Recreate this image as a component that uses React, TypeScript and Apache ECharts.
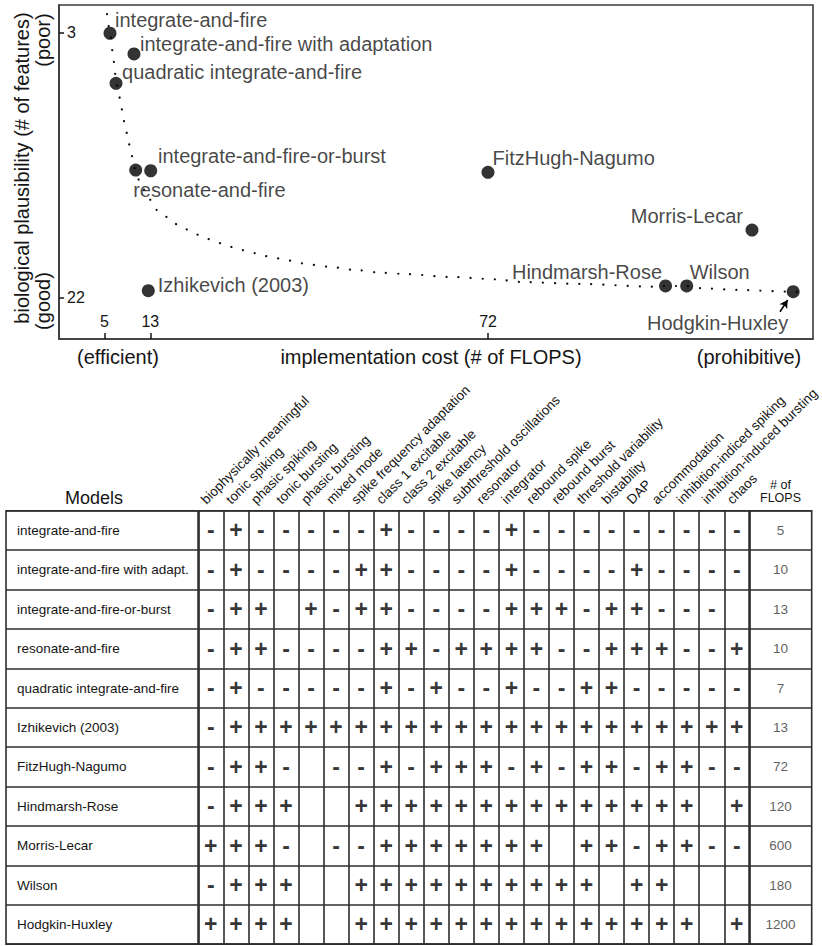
import React, { useEffect, useRef } from 'react';
import * as echarts from 'echarts';

// ---------- data: scatter (top panel) ----------
const pointNames = [
  'integrate-and-fire',
  'integrate-and-fire with adaptation',
  'integrate-and-fire-or-burst',
  'resonate-and-fire',
  'quadratic integrate-and-fire',
  'Izhikevich (2003)',
  'FitzHugh-Nagumo',
  'Hindmarsh-Rose',
  'Morris-Lecar',
  'Wilson',
  'Hodgkin-Huxley',
];
// position on the (schematic) cost axis
const pointCost = [5.95, 10.14, 13.06, 10.44, 7.0, 12.64, 71.98, 103.0, 118.1, 106.7, 125.3];
// position on the (schematic) plausibility axis
const pointPlaus = [3.03, 4.52, 12.91, 12.86, 6.63, 21.53, 13.02, 21.19, 17.17, 21.19, 21.6];

const costTicks = [5, 13, 72];
const plausTicks = [3, 22];

// dotted trend curve
const trendCost = [5.43, 5.78, 5.95, 6.42, 6.7, 7.0, 7.82, 8.17, 8.62, 9.15, 9.57, 10.44, 11.19, 12.82, 14.11, 15.86, 17.88, 19.75, 21.9, 24.0, 26.34, 28.36, 30.7, 32.85, 35.07, 37.27, 39.44, 44.03, 48.75, 53.12, 57.48, 65.35, 73.5, 77.57, 88.0, 100.8, 103.0, 106.7, 109.0, 116.0, 125.3, 127.4];
const trendPlaus = [1.65, 2.58, 3.01, 4.36, 5.24, 6.6, 7.83, 8.9, 9.77, 10.7, 11.64, 12.86, 13.79, 14.96, 15.73, 16.23, 16.8, 17.17, 17.6, 17.93, 18.29, 18.55, 18.8, 19.03, 19.2, 19.37, 19.56, 19.8, 20.04, 20.23, 20.33, 20.54, 20.71, 20.9, 21.04, 21.24, 21.19, 21.19, 21.35, 21.48, 21.6, 21.67];

// arrow pointing at Hodgkin-Huxley (axis units)
const hhArrowFrom = [123.0, 23.04];
const hhArrowTo = [124.33, 22.2];

// ---------- data: table ----------
const models = [
  'integrate-and-fire',
  'integrate-and-fire with adapt.',
  'integrate-and-fire-or-burst',
  'resonate-and-fire',
  'quadratic integrate-and-fire',
  'Izhikevich (2003)',
  'FitzHugh-Nagumo',
  'Hindmarsh-Rose',
  'Morris-Lecar',
  'Wilson',
  'Hodgkin-Huxley',
];
const features = [
  'biophysically meaningful',
  'tonic spiking',
  'phasic spiking',
  'tonic bursting',
  'phasic bursting',
  'mixed mode',
  'spike frequency adaptation',
  'class 1 excitable',
  'class 2 excitable',
  'spike latency',
  'subthreshold oscillations',
  'resonator',
  'integrator',
  'rebound spike',
  'rebound burst',
  'threshold variability',
  'bistability',
  'DAP',
  'accommodation',
  'inhibition-indiced spiking',
  'inhibition-induced bursting',
  'chaos',
];
// one string per model, one character per feature ('+', '-', or ' ' for blank)
const featureMarks = [
  '-+-----+----+---------',
  '-+----++----+----+----',
  '-++ +-++----+++-++--- ',
  '-++----++-++++--+++--+',
  '-+-----+-+--+--++-----',
  '-+++++++++++++++++++++',
  '-++- --+-+++-+-++-++--',
  '-+++  ++++++++++++++ +',
  '+++- --+++++++ ++-++--',
  '-+++  ++++++++++ ++   ',
  '++++  ++++++++++++++ +',
];
const flops = [5, 10, 13, 10, 7, 13, 72, 120, 600, 180, 1200];

// ---------- styles / layout ----------
const FONT = '"Liberation Sans", Arial, Helvetica, sans-serif';
const INK = '#151515';
const LINE = '#2e2e2e';

// label placement for scatter points (position, dx, dy)
const pointLabelLayout: Array<[string, number, number]> = [
  ['right', -1.5, -13],
  ['right', -0.5, -10],
  ['right', 0.8, -15],
  ['right', -9, 20],
  ['right', -0.5, -11],
  ['right', 3, -6],
  ['right', -2, -14],
  ['left', 3, -14],
  ['left', -2.5, -14],
  ['right', -3.5, -14],
  ['left', 1.5, 31],
];

const TABLE_TOP = 510.7;
const TABLE_H = 433.4;
const NAME_L = 6;
const NAME_W = 192.3;
const FEAT_L = 198.3;
const FEAT_W = 551;
const FLOPS_L = 749.3;
const FLOPS_W = 62.4;

function buildOption() {
  const scatterData = pointNames.map((n, i) => {
    const [pos, dx, dy] = pointLabelLayout[i];
    return {
      name: n,
      value: [pointCost[i], pointPlaus[i]],
      label: {
        show: true,
        position: pos,
        distance: 0,
        offset: [dx, dy],
        formatter: n,
      },
    };
  });

  const trendData = trendCost.map((c, i) => [c, trendPlaus[i]]);

  const markData: any[] = [];
  featureMarks.forEach((row, i) => {
    for (let j = 0; j < row.length; j++) {
      const ch = row[j];
      if (ch === '+' || ch === '-') markData.push([j, i, ch]);
    }
  });

  const flopsData = flops.map((f, i) => [0, i, f]);

  const tableYAxis = (gridIndex: number, showLabels: boolean) => ({
    type: 'category',
    gridIndex,
    data: models,
    inverse: true,
    axisLine: { show: false },
    axisTick: { show: false },
    splitLine: { show: true, interval: 0, lineStyle: { color: LINE, width: 1.6 } },
    axisLabel: showLabels
      ? { show: true, inside: true, interval: 0, margin: 11, fontSize: 13.5, color: INK, fontFamily: FONT }
      : { show: false, interval: 0 },
  });

  const gridBox = { show: true, borderColor: LINE, borderWidth: 1.6, backgroundColor: 'transparent' };

  return {
    animation: false,
    backgroundColor: '#ffffff',
    textStyle: { fontFamily: FONT },
    grid: [
      { left: 59, top: 5, width: 754, height: 334, show: true, borderColor: '#3a3a3a', borderWidth: 1.6 },
      { left: NAME_L, top: TABLE_TOP, width: NAME_W, height: TABLE_H, ...gridBox },
      { left: FEAT_L, top: TABLE_TOP, width: FEAT_W, height: TABLE_H, ...gridBox },
      { left: FLOPS_L, top: TABLE_TOP, width: FLOPS_W, height: TABLE_H, ...gridBox },
    ],
    xAxis: [
      {
        type: 'value',
        gridIndex: 0,
        min: -2.96,
        max: 128.76,
        axisLine: { show: true, onZero: false, lineStyle: { color: '#3a3a3a', width: 1.6 } },
        splitLine: { show: false },
        axisTick: { show: true, inside: true, length: 6, customValues: costTicks, lineStyle: { color: INK, width: 1.5 } },
        axisLabel: { show: true, inside: true, margin: 10, customValues: costTicks, fontSize: 16, color: INK, fontFamily: FONT },
      },
      {
        type: 'category',
        gridIndex: 1,
        data: [''],
        position: 'top',
        axisLine: { show: false },
        axisTick: { show: false },
        axisLabel: { show: false },
        splitLine: { show: false },
      },
      {
        type: 'category',
        gridIndex: 2,
        data: features,
        position: 'top',
        axisLine: { show: false },
        axisTick: { show: false },
        axisLabel: { show: false, interval: 0 },
        splitLine: { show: true, interval: 0, lineStyle: { color: LINE, width: 1.6 } },
      },
      {
        type: 'category',
        gridIndex: 3,
        data: ['# of\nFLOPS'],
        position: 'top',
        axisLine: { show: false },
        axisTick: { show: false },
        axisLabel: { show: true, margin: 6, fontSize: 12.5, lineHeight: 13, color: INK, fontFamily: FONT },
        splitLine: { show: false },
      },
    ],
    yAxis: [
      {
        type: 'value',
        gridIndex: 0,
        min: 1,
        max: 25,
        inverse: true,
        axisLine: { show: true, onZero: false, lineStyle: { color: '#3a3a3a', width: 1.6 } },
        splitLine: { show: false },
        axisTick: { show: true, inside: true, length: 5, customValues: plausTicks, lineStyle: { color: INK, width: 1.5 } },
        axisLabel: { show: true, inside: true, align: 'left', margin: 8, customValues: plausTicks, fontSize: 16, color: INK, fontFamily: FONT },
      },
      tableYAxis(1, true),
      tableYAxis(2, false),
      tableYAxis(3, false),
    ],
    series: [
      {
        type: 'line',
        xAxisIndex: 0,
        yAxisIndex: 0,
        data: trendData,
        symbol: 'none',
        smooth: 0.3,
        smoothMonotone: 'x',
        lineStyle: { color: '#111', width: 2.2, type: [0.1, 12], cap: 'round' },
        z: 2,
        silent: true,
      },
      {
        type: 'scatter',
        xAxisIndex: 0,
        yAxisIndex: 0,
        data: scatterData,
        symbol: 'circle',
        symbolSize: 13,
        itemStyle: { color: '#000' },
        label: { fontSize: 20, color: INK, fontFamily: FONT },
        z: 3,
        markLine: {
          silent: true,
          symbol: ['none', 'arrow'],
          symbolSize: [7, 8],
          label: { show: false },
          lineStyle: { color: '#000', width: 1.6, type: 'solid' },
          data: [[{ coord: hhArrowFrom }, { coord: hhArrowTo }]],
        },
      },
      {
        type: 'custom',
        xAxisIndex: 2,
        yAxisIndex: 2,
        data: features.map((f, i) => [i, 0]),
        silent: true,
        renderItem: (params: any, api: any) => {
          const p = api.coord([api.value(0), 0]);
          const h = api.size([0, 1])[1];
          const top = p[1] - h / 2;
          return {
            type: 'text',
            x: p[0] - 7.5,
            y: top - 9,
            rotation: Math.PI / 4,
            style: {
              text: features[params.dataIndex],
              fontSize: 13.5,
              fontFamily: FONT,
              fill: INK,
              align: 'left',
              verticalAlign: 'middle',
            },
          };
        },
      },
      {
        type: 'scatter',
        xAxisIndex: 2,
        yAxisIndex: 2,
        data: markData,
        symbol: 'circle',
        symbolSize: 1,
        itemStyle: { color: 'rgba(0,0,0,0)' },
        silent: true,
        label: {
          show: true,
          position: 'inside',
          formatter: (p: any) => p.data[2],
          fontSize: 23,
          fontWeight: 'bold',
          color: '#000',
          fontFamily: FONT,
        },
      },
      {
        type: 'scatter',
        xAxisIndex: 3,
        yAxisIndex: 3,
        data: flopsData,
        symbol: 'circle',
        symbolSize: 1,
        itemStyle: { color: 'rgba(0,0,0,0)' },
        silent: true,
        label: {
          show: true,
          position: 'inside',
          formatter: (p: any) => String(p.data[2]),
          fontSize: 13.5,
          color: '#333',
          fontFamily: FONT,
        },
      },
    ],
    graphic: [
      {
        type: 'text',
        x: 431,
        y: 357,
        style: { text: 'implementation cost (# of FLOPS)', fontSize: 20, fontFamily: FONT, fill: INK, align: 'center', verticalAlign: 'middle' },
      },
      {
        type: 'text',
        x: 118,
        y: 357,
        style: { text: '(efficient)', fontSize: 20, fontFamily: FONT, fill: INK, align: 'center', verticalAlign: 'middle' },
      },
      {
        type: 'text',
        x: 749,
        y: 357,
        style: { text: '(prohibitive)', fontSize: 20, fontFamily: FONT, fill: INK, align: 'center', verticalAlign: 'middle' },
      },
      {
        type: 'text',
        x: 22,
        y: 168,
        rotation: Math.PI / 2,
        style: { text: 'biological plausibility (# of features)', fontSize: 20, fontFamily: FONT, fill: INK, align: 'center', verticalAlign: 'middle' },
      },
      {
        type: 'text',
        x: 43,
        y: 40,
        rotation: Math.PI / 2,
        style: { text: '(poor)', fontSize: 20, fontFamily: FONT, fill: INK, align: 'center', verticalAlign: 'middle' },
      },
      {
        type: 'text',
        x: 43,
        y: 301,
        rotation: Math.PI / 2,
        style: { text: '(good)', fontSize: 20, fontFamily: FONT, fill: INK, align: 'center', verticalAlign: 'middle' },
      },
      {
        type: 'text',
        x: 94,
        y: 498,
        style: { text: 'Models', fontSize: 18, fontFamily: FONT, fill: INK, align: 'center', verticalAlign: 'middle' },
      },
    ],
  };
}

export default function App() {
  const ref = useRef<HTMLDivElement>(null);
  useEffect(() => {
    if (!ref.current) return;
    const chart = echarts.init(ref.current, null, { renderer: 'svg' });
    chart.setOption(buildOption() as any);
    return () => {
      chart.dispose();
    };
  }, []);
  return (
    <div
      ref={ref}
      style={{ position: 'absolute', left: 0, top: 0, width: 822, height: 946, background: '#ffffff' }}
    />
  );
}
